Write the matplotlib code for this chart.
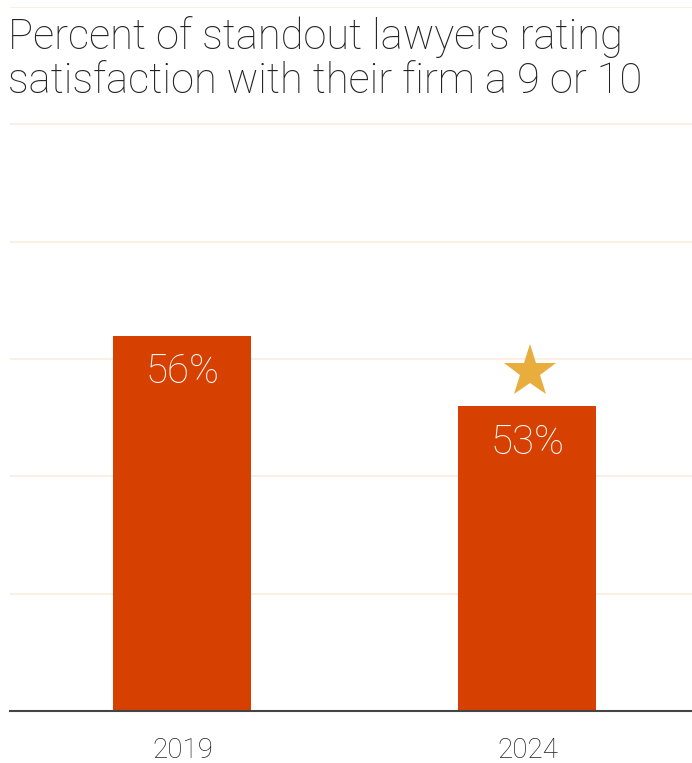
import matplotlib.pyplot as plt

years = ["2019", "2024"]
percents = [56, 53]
star_year = "2024"
yticks = [40, 45, 50, 55, 60, 65, 70]

title = "Percent of standout lawyers rating\nsatisfaction with their firm a 9 or 10"

bar_color = "#D64000"
star_color = "#E8AD3C"
grid_color = "#FBEBDD"
text_color = "#222222"

plt.rcParams["font.family"] = ["Roboto", "DejaVu Sans"]
plt.rcParams["font.weight"] = "light"

fig = plt.figure(figsize=(6.92, 7.63), dpi=100)
ax = fig.add_axes([10 / 692, 52 / 763, 682 / 692, 704 / 763])

x = list(range(len(years)))
ax.bar(x, percents, width=0.4, color=bar_color, zorder=2)

# value labels inside the top of each bar
for xi, p in zip(x, percents):
    ax.text(xi, p - 1.55, f"{p}%", ha="center", va="center",
            color="white", fontsize=29, fontweight="light", zorder=3)

# star above the highlighted year
si = years.index(star_year)
ax.plot(si + 0.008, percents[si] + 1.45, marker="*", markersize=40,
        color=star_color, markeredgewidth=0, zorder=3)

ax.set_ylim(40, 70)
ax.set_xlim(-0.5, 1.477)
ax.set_yticks(yticks)
ax.yaxis.grid(True, color=grid_color, linewidth=1.2, zorder=0)
ax.tick_params(axis="y", left=False, labelleft=False)
ax.tick_params(axis="x", bottom=False, pad=15, labelsize=20, labelcolor=text_color)
ax.set_xticks(x)
ax.set_xticklabels(years)

for side in ["top", "right", "left"]:
    ax.spines[side].set_visible(False)
ax.spines["bottom"].set_color("#444444")
ax.spines["bottom"].set_linewidth(1.5)

fig.text(8 / 692, 1 - 16 / 763, title, ha="left", va="top",
         fontsize=30, fontweight="light", color=text_color, linespacing=1.1)

fig.savefig("out.png", dpi=100, facecolor="white")
